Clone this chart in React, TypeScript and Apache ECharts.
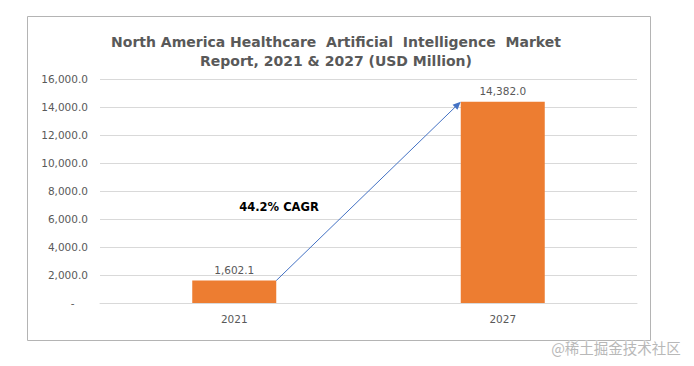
import React, { useEffect, useRef } from 'react';
import * as echarts from 'echarts';

const categories = ['2021', '2027'];
const values = [1602.1, 14382.0];
const yMin = 0;
const yMax = 16000;
const yInterval = 2000;
const titleLines = ['North America Healthcare  Artificial  Intelligence  Market', 'Report, 2021 & 2027 (USD Million)'];
const cagrLabel = '44.2% CAGR';
const watermark = '@稀土掘金技术社区';

const FONT = 'DejaVu Sans';
const GRAY = '#595959';

function fmt(v: number): string {
  if (v === 0) return '-    ';
  return v.toLocaleString('en-US', { minimumFractionDigits: 1, maximumFractionDigits: 1 });
}

export default function App() {
  const ref = useRef<HTMLDivElement>(null);
  useEffect(() => {
    const chart = echarts.init(ref.current!, null, { renderer: 'svg' });
    const barWidth = 84;
    chart.setOption({
      animation: false,
      backgroundColor: '#ffffff',
      title: {
        text: titleLines.join('\n'),
        left: 336,
        top: 32,
        padding: 0,
        textAlign: 'center',
        textStyle: { fontFamily: FONT, fontWeight: 'bold', fontSize: 14, color: GRAY, lineHeight: 19 },
      },
      grid: { left: 100, right: 57, top: 79, bottom: 63 },
      xAxis: {
        type: 'category',
        data: categories,
        axisLine: { lineStyle: { color: '#d9d9d9' } },
        axisTick: { show: false },
        axisLabel: { color: GRAY, fontFamily: FONT, fontSize: 10.5, margin: 10 },
      },
      yAxis: {
        type: 'value',
        min: yMin,
        max: yMax,
        interval: yInterval,
        axisLine: { show: false },
        axisTick: { show: false },
        splitLine: { lineStyle: { color: '#d9d9d9' } },
        axisLabel: { formatter: (v: number) => fmt(v), color: GRAY, fontFamily: FONT, fontSize: 10.5, margin: 12 },
      },
      series: [
        {
          type: 'bar',
          data: values,
          barWidth,
          itemStyle: { color: '#ED7D31' },
          label: {
            show: true,
            position: 'top',
            distance: 5,
            formatter: (p: any) => fmt(p.value),
            color: GRAY,
            fontFamily: FONT,
            fontSize: 10.5,
          },
        },
      ],
    });

    const p0 = chart.convertToPixel({ seriesIndex: 0 }, [categories[0], values[0]]) as number[];
    const p1 = chart.convertToPixel({ seriesIndex: 0 }, [categories[1], values[1]]) as number[];
    const sx = p0[0] + barWidth / 2;
    const sy = p0[1];
    const ex = p1[0] - barWidth / 2;
    const ey = p1[1];
    const dx = ex - sx;
    const dy = ey - sy;
    const len = Math.sqrt(dx * dx + dy * dy);
    const ux = dx / len;
    const uy = dy / len;
    const headLen = 8;
    const headHalf = 3.5;
    const bx = ex - ux * headLen;
    const by = ey - uy * headLen;
    const nx = -uy;
    const ny = ux;
    const arrowColor = '#4472C4';

    chart.setOption({
      graphic: [
        {
          type: 'rect',
          shape: { x: 27.5, y: 16.5, width: 623, height: 324 },
          style: { fill: 'none', stroke: '#b4b4b4', lineWidth: 1 },
          silent: true,
        },
        {
          type: 'line',
          shape: { x1: sx, y1: sy, x2: bx, y2: by },
          style: { stroke: arrowColor, lineWidth: 1 },
          z: 10,
        },
        {
          type: 'polygon',
          shape: {
            points: [
              [ex, ey],
              [bx + nx * headHalf, by + ny * headHalf],
              [bx - nx * headHalf, by - ny * headHalf],
            ],
          },
          style: { fill: arrowColor },
          z: 10,
        },
        {
          type: 'text',
          x: 279,
          y: 207,
          z: 11,
          style: {
            text: cagrLabel,
            fontFamily: FONT,
            fontWeight: 'bold',
            fontSize: 11.5,
            fill: '#000000',
            align: 'center',
            verticalAlign: 'middle',
            backgroundColor: '#ffffff',
            padding: [5, 11],
          },
        },
        {
          type: 'text',
          x: 616,
          y: 347,
          z: 12,
          style: {
            text: watermark,
            fontFamily: 'Noto Sans CJK SC',
            fontSize: 14.5,
            fill: '#b8b8b8',
            stroke: '#ffffff',
            lineWidth: 1,
            align: 'center',
            verticalAlign: 'middle',
          },
        },
      ],
    });

    return () => chart.dispose();
  }, []);
  return <div ref={ref} style={{ position: 'absolute', left: 0, top: 0, width: 694, height: 366 }} />;
}
